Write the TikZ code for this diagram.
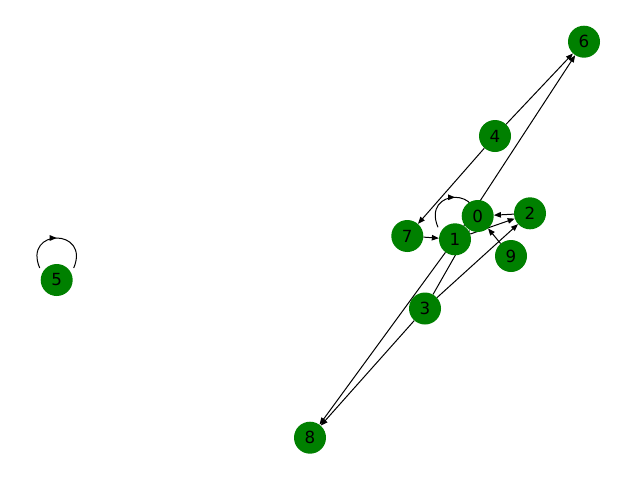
\documentclass[tikz,border=0pt]{standalone}
\usepackage{fontspec}
\setmainfont{DejaVu Sans}
\usetikzlibrary{arrows.meta,decorations.markings}
\pgfdeclarelayer{background}
\pgfsetlayers{background,main}
\definecolor{nxgreen}{RGB}{0,128,0}
\tikzset{
  vtx/.style={circle,fill=nxgreen,minimum size=32pt,inner sep=0pt,font=\fontsize{16.7}{20}\selectfont},
  nxedge/.style={draw=black,line width=1pt,-{Triangle[length=7pt,width=5.5pt]}},
  selfloop/.style={draw=black,line width=1pt,postaction={decorate},
    decoration={markings,mark=at position 0.5 with {\arrow{Triangle[length=7pt,width=5.5pt]}}}}
}
\begin{document}
\begin{tikzpicture}[x=1pt,y=-1pt]
\useasboundingbox (0,0) rectangle (640,480);
\node[vtx] (n0) at (477.7,216) {0};
\node[vtx] (n1) at (455,239.3) {1};
\node[vtx] (n2) at (530,213.3) {2};
\node[vtx] (n3) at (425,308.5) {3};
\node[vtx] (n4) at (495,136) {4};
\node[vtx] (n5) at (56.7,280) {5};
\node[vtx] (n6) at (584,41.7) {6};
\node[vtx] (n7) at (407.3,236) {7};
\node[vtx] (n8) at (310,437.7) {8};
\node[vtx] (n9) at (511,256) {9};
\begin{pgfonlayer}{background}
\draw[nxedge] (n4) -- (n6);
\draw[nxedge] (n1) -- (n6);
\draw[nxedge] (n4) -- (n7);
\draw[nxedge] (n7) -- (n1);
\draw[nxedge] (n1) -- (n2);
\draw[nxedge] (n2) -- (n0);
\draw[nxedge] (n9) -- (n0);
\draw[nxedge] (n3) -- (n0);
\draw[nxedge] (n3) -- (n2);
\draw[nxedge] (n3) -- (n8);
\draw[nxedge] (n1) -- (n8);
\draw[selfloop] ([shift={(-17,-12)}]n1.center) .. controls ([shift={(-34,-52)}]n1.center) and ([shift={(34,-52)}]n1.center) .. ([shift={(17,-12)}]n1.center);
\draw[selfloop] ([shift={(-17,-12)}]n5.center) .. controls ([shift={(-34,-52)}]n5.center) and ([shift={(34,-52)}]n5.center) .. ([shift={(17,-12)}]n5.center);
\end{pgfonlayer}
\end{tikzpicture}
\end{document}
